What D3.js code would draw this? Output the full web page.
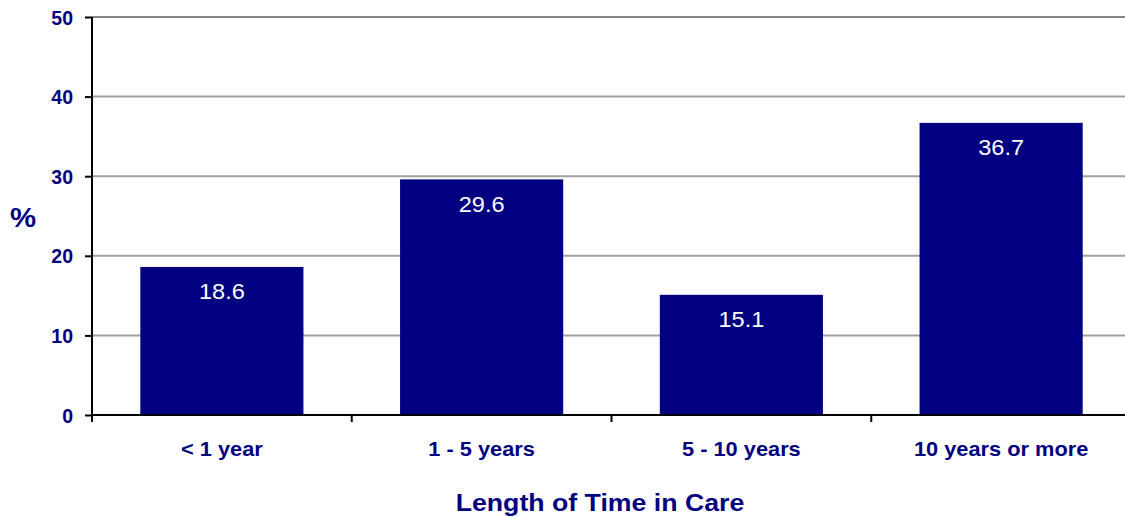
<!DOCTYPE html>
<html><head><meta charset="utf-8">
<script src="https://cdn.jsdelivr.net/npm/d3@7"></script>
<style>body{margin:0;background:#fff}svg{display:block}text{font-family:Arial,"Liberation Sans",sans-serif}</style>
</head><body>
<svg id="c" width="1125" height="517"></svg>
<script>
const categories = ["< 1 year", "1 - 5 years", "5 - 10 years", "10 years or more"];
const values = [18.6, 29.6, 15.1, 36.7];
const yTicks = [0, 10, 20, 30, 40, 50];

(function () {
const svg = d3.select("#c");
const mLeft = 92, mRight = 1131, mTop = 17, mBottom = 415;
const navy = "#000080";
const FONT = "Arial, 'Liberation Sans', sans-serif";
const SX = 1.09;

const x = d3.scaleBand().domain(categories).range([mLeft, mRight]).paddingInner(0.372).paddingOuter(0.186);
const xb = d3.scaleBand().domain(categories).range([mLeft, mRight]);
const y = d3.scaleLinear().domain([0, 50]).range([mBottom, mTop]);

svg.append("g").selectAll("line").data(yTicks.filter(d => d > 0)).join("line")
  .attr("x1", mLeft).attr("x2", 1125).attr("y1", d => y(d)).attr("y2", d => y(d))
  .attr("stroke", d => d === 50 ? "#868686" : "#a0a0a0").attr("stroke-width", 2);

svg.append("g").selectAll("rect").data(values).join("rect")
  .attr("x", (d, i) => x(categories[i])).attr("width", x.bandwidth())
  .attr("y", d => y(d)).attr("height", d => y(0) - y(d))
  .attr("fill", navy);

svg.append("g").selectAll("text").data(values).join("text")
  .attr("transform", (d, i) => `translate(${x(categories[i]) + x.bandwidth() / 2},${y(d) + 32.5}) scale(1.07,1)`)
  .attr("text-anchor", "middle").attr("fill", "#fff").attr("font-size", 22)
  .text(d => d.toFixed(1));

const ya = svg.append("g").attr("transform", `translate(${mLeft},0)`)
  .call(d3.axisLeft(y).tickValues(yTicks).tickSize(7).tickPadding(12));
ya.select(".domain").attr("stroke", "#000").attr("stroke-width", 2).attr("d", `M0,${mTop}V${mBottom}`);
ya.selectAll(".tick line").attr("stroke", "#000").attr("stroke-width", 2);
ya.selectAll(".tick text").attr("fill", navy).attr("font-size", 19.5).attr("font-weight", "bold")
  .attr("font-family", FONT).attr("dy", "0.36em");

svg.append("line").attr("x1", mLeft).attr("x2", 1125).attr("y1", mBottom).attr("y2", mBottom)
  .attr("stroke", "#000").attr("stroke-width", 2);
svg.append("g").selectAll("line").data(categories).join("line")
  .attr("x1", d => xb(d)).attr("x2", d => xb(d)).attr("y1", mBottom).attr("y2", mBottom + 7)
  .attr("stroke", "#000").attr("stroke-width", 2);
svg.append("g").selectAll("text").data(categories).join("text")
  .attr("transform", d => `translate(${xb(d) + xb.bandwidth() / 2},456) scale(${SX},1)`)
  .attr("text-anchor", "middle").attr("fill", navy).attr("font-size", 20).attr("font-weight", "bold")
  .text(d => d);

svg.append("text").attr("transform", `translate(23,227) scale(${SX},1)`).attr("text-anchor", "middle")
  .attr("fill", navy).attr("font-size", 27).attr("font-weight", "bold").text("%");
svg.append("text").attr("transform", `translate(600,511) scale(${SX},1)`).attr("text-anchor", "middle")
  .attr("fill", navy).attr("font-size", 24.5).attr("font-weight", "bold").text("Length of Time in Care");
})();
</script>
</body></html>
